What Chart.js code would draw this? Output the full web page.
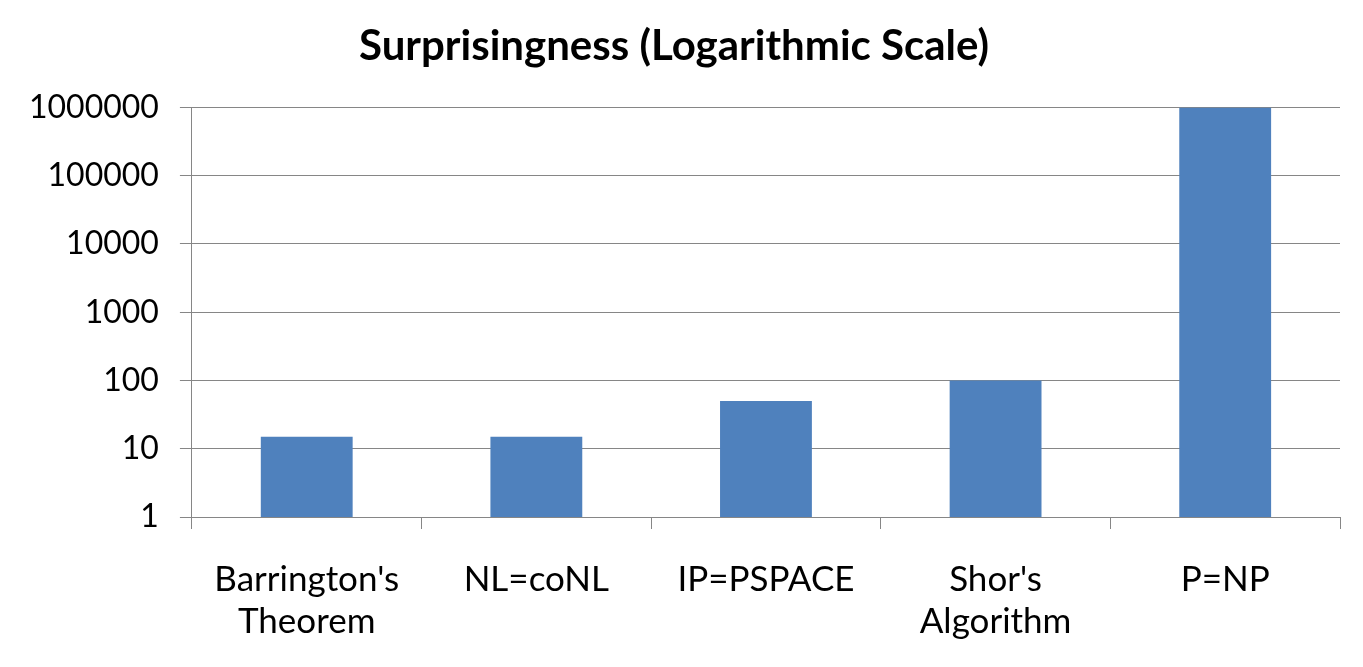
<!DOCTYPE html>
<html>
<head>
<meta charset="utf-8">
<script src="https://cdn.jsdelivr.net/npm/chart.js@4"></script>
<style>
  html, body { margin: 0; padding: 0; background: #ffffff; }
  #wrap { width: 1363px; height: 667px; }
</style>
</head>
<body>
<div id="wrap"><canvas id="chart"></canvas></div>
<script>
const categories = [
  ["Barrington's", "Theorem"],
  "NL=coNL",
  "IP=PSPACE",
  ["Shor's", "Algorithm"],
  "P=NP"
];
const surprisingness = [15, 15, 50, 100, 1000000];
const yTicks = [1, 10, 100, 1000, 10000, 100000, 1000000];

const gridGray = "#868686";
const fontFamily = "Lato, 'Open Sans', sans-serif";

const ctx = document.getElementById("chart");

const chart = new Chart(ctx, {
  type: "bar",
  data: {
    labels: categories,
    datasets: [
      {
        data: surprisingness,
        backgroundColor: "#4F81BD",
        categoryPercentage: 1.0,
        barPercentage: 0.4,
      },
    ],
  },
  options: {
    responsive: true,
    maintainAspectRatio: false,
    animation: false,
    layout: { padding: { left: 8, right: 23, top: 10, bottom: -6 } },
    plugins: {
      legend: { display: false },
      tooltip: { enabled: false },
      title: {
        display: true,
        text: "Surprisingness (Logarithmic Scale)",
        color: "#000000",
        font: { family: fontFamily, size: 42, weight: "bold", lineHeight: 1.2 },
        padding: { top: 11, bottom: 36 },
      },
    },
    scales: {
      x: {
        grid: {
          offset: true,
          drawOnChartArea: false,
          drawTicks: true,
          tickLength: 12,
          color: gridGray,
        },
        border: { display: true, color: gridGray },
        ticks: {
          color: "#000000",
          padding: 30,
          maxRotation: 0,
          autoSkip: false,
          font: { family: fontFamily, size: 35, lineHeight: 1.2 },
        },
      },
      y: {
        type: "logarithmic",
        min: 1,
        max: 1000000,
        afterBuildTicks: (axis) => {
          axis.ticks = yTicks.map((v) => ({ value: v }));
        },
        grid: {
          color: gridGray,
          tickLength: 12,
        },
        border: { display: true, color: gridGray },
        ticks: {
          color: "#000000",
          padding: 21,
          callback: (value) => String(value),
          font: { family: fontFamily, size: 32 },
        },
      },
    },
  },
});
</script>
</body>
</html>
